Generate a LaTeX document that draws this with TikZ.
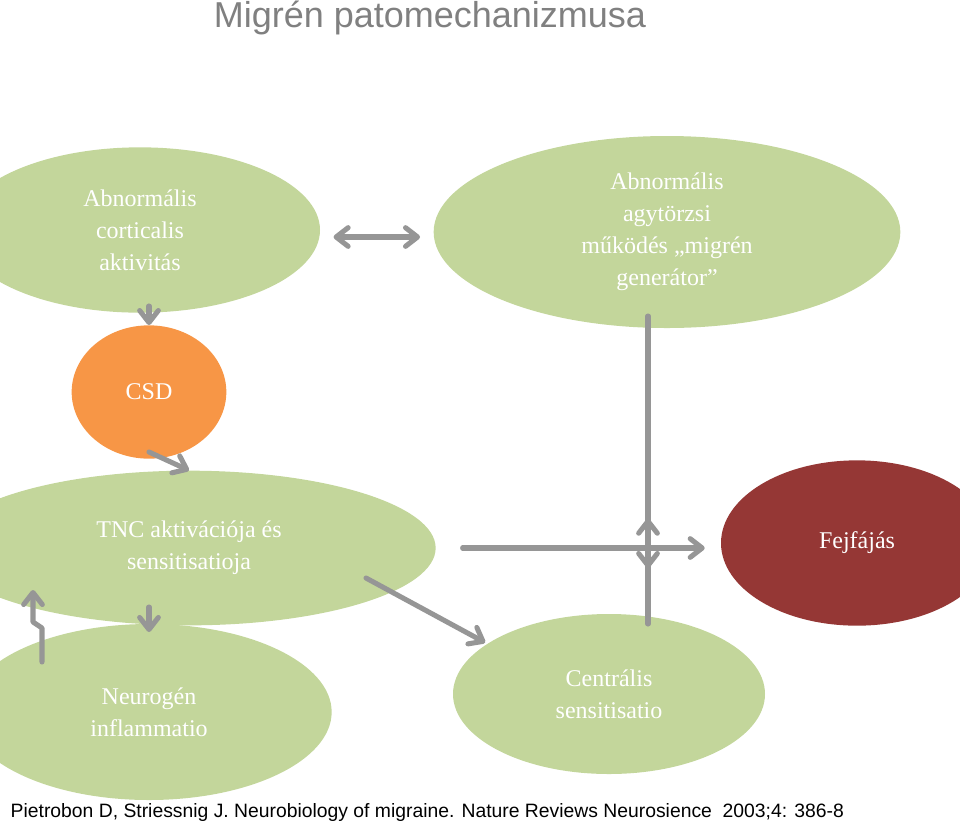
\documentclass[tikz,border=0pt]{standalone}
\usepackage{fontspec}
\setmainfont{Liberation Serif}
\newfontfamily\sans{Liberation Sans}
\usetikzlibrary{arrows.meta, positioning}
\definecolor{leaf}{HTML}{C3D69B}
\definecolor{pumpkin}{HTML}{F79646}
\definecolor{wine}{HTML}{953735}
\definecolor{steel}{HTML}{969696}
\begin{document}
\begin{tikzpicture}[x=0.75pt, y=-0.75pt,
        blob/.style = {ellipse, fill=leaf, text=white, align=center, font=\fontsize{18}{24}\selectfont},
        flow/.style = {draw=steel, line width=3.8pt, line cap=round, line join=round,
                       -{Straight Barb[length=9pt, width=14pt, line width=3.8pt, round]}},
        both/.style = {flow, {Straight Barb[length=9pt, width=14pt, line width=3.8pt, round]}-{Straight Barb[length=9pt, width=14pt, line width=3.8pt, round]}}
    ]
    \useasboundingbox (0,0) rectangle (960,826);
    \usetikzlibrary{shapes.geometric}

    \node[font=\sans\fontsize{27}{30}\selectfont, text=gray] (title) at (430,18) {Migrén patomechanizmusa};

    \node[blob, minimum width=270, minimum height=124] (cortex) at (140,230) {Abnormális\\corticalis\\aktivitás};
    \node[blob, minimum width=350, minimum height=144] (stem) at (667,232) {Abnormális\\agytörzsi\\működés „migrén\\generátor”};
    \node[blob, fill=pumpkin, minimum width=116, minimum height=100] (csd) at (149,392) {CSD};
    \node[blob, minimum width=370, minimum height=116] (tnc) at (189,548) {TNC aktivációja és\\sensitisatioja};
    \node[blob, fill=wine, minimum width=204, minimum height=124] (pain) at (857,543) {Fejfájás};
    \node[blob, minimum width=274, minimum height=132] (neuro) at (149,712) {Neurogén\\inflammatio};
    \node[blob, minimum width=234, minimum height=120] (central) at (609,694) {Centrális\\sensitisatio};

    \node[font=\sans\fontsize{14.5}{16}\selectfont, anchor=west] (ref) at (6,812)
        {Pietrobon D, Striessnig J. Neurobiology of migraine. Nature Reviews Neurosience\ \ 2003;4: 386-8};

    \coordinate (join) at (648,548);
    \coordinate (kink1) at (42,628);
    \coordinate (kink2) at (33,622);

    \draw[both] ([xshift=10]cortex.east |- 0,237) -- ([xshift=-10]stem.west |- 0,237);
    \draw[flow] (149,306) -- (csd.north);
    \draw[flow] (149,452) -- (tnc.north);
    \draw[flow] (149,607) -- (149,632);
    \draw[flow] (648,316) -- ([yshift=-15]join);
    \draw[flow] (648,624) -- ([yshift=22]join);
    \draw[flow] ([xshift=20]tnc.east |- join) -- ([xshift=-12]pain.west |- join);
    \draw[flow] (366,578) -- ([xshift=-10,yshift=-4]central.north west);
    \draw[flow] (42,662) -- (kink1) -- (kink2) -- (33,590);
\end{tikzpicture}
\end{document}
